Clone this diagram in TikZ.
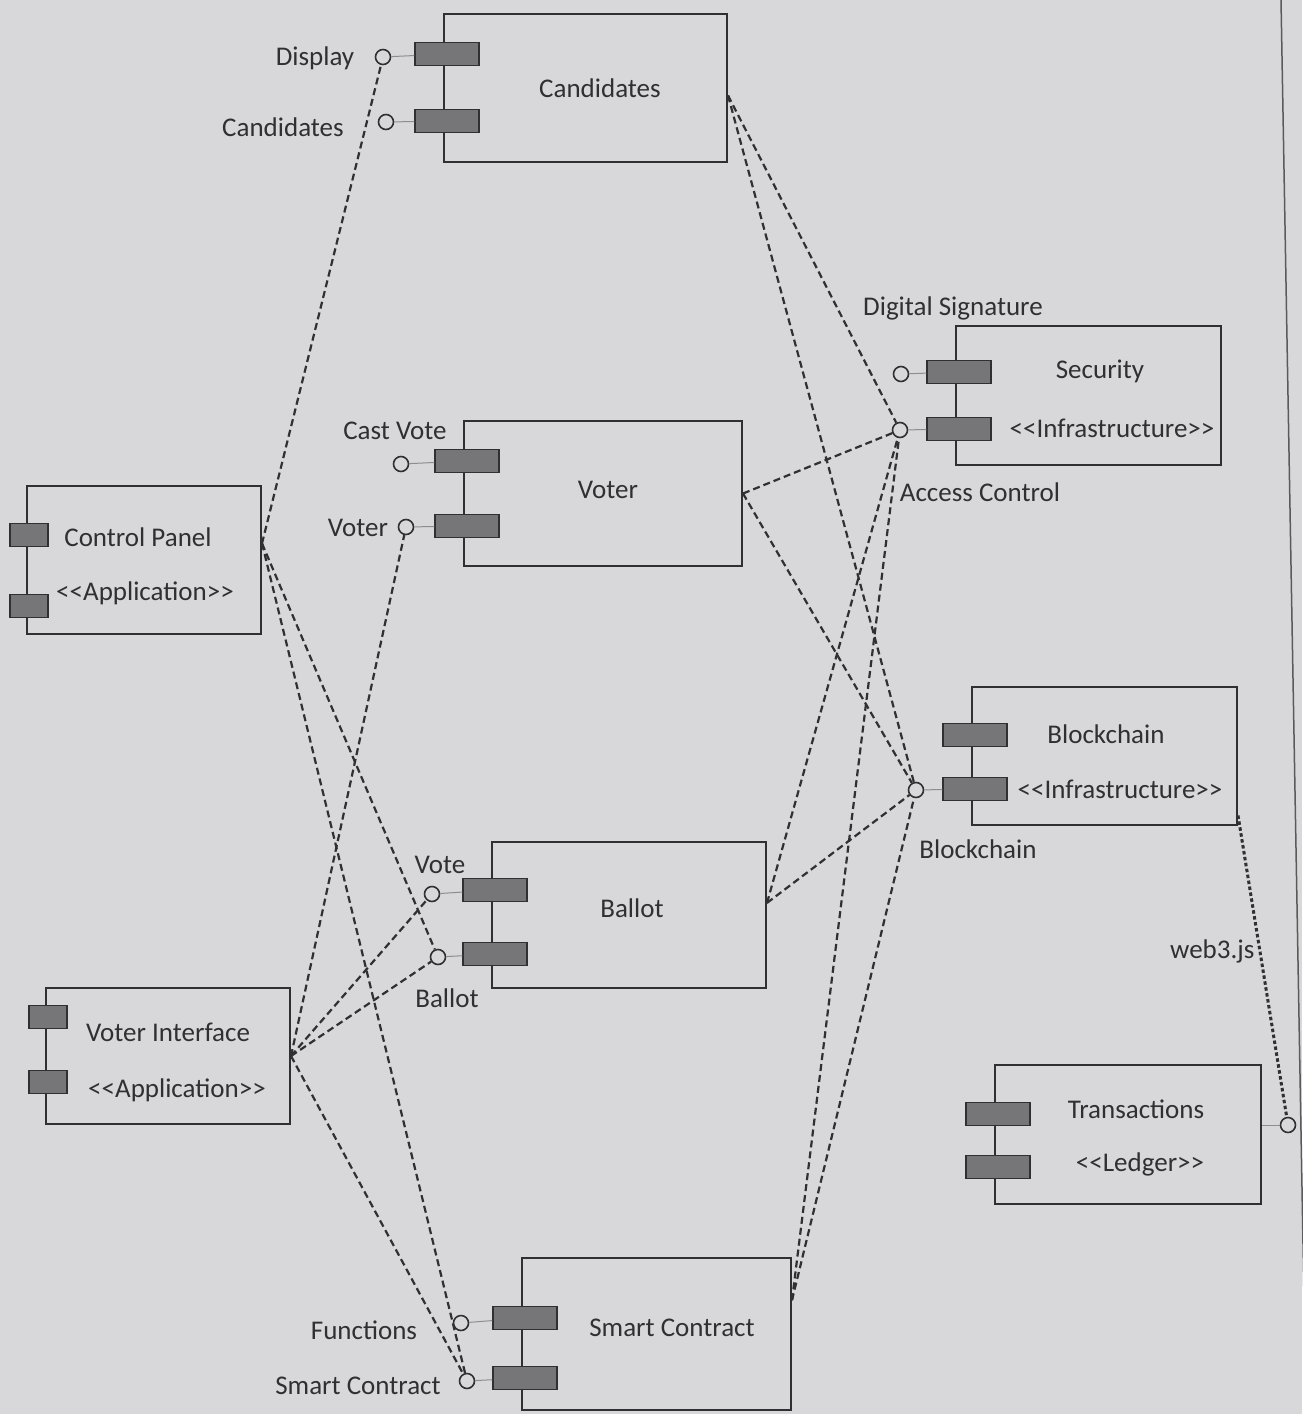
\documentclass[tikz,border=0pt]{standalone}
\usepackage{fontspec}
\setmainfont{Carlito}[Ligatures=TeXOff]
\definecolor{paper}{RGB}{216,216,218}
\definecolor{ink}{RGB}{48,48,50}
\definecolor{portgray}{RGB}{118,118,120}
\begin{document}
\begin{tikzpicture}[x=1pt,y=-1pt,
    comp/.style={draw=ink,line width=2pt,inner sep=0pt},
    port/.style={draw=ink,fill=portgray,line width=1.5pt,minimum width=64pt,minimum height=23pt,inner sep=0pt},
    smallport/.style={port,minimum width=38pt},
    lolli/.style={circle,draw=ink,line width=1.6pt,minimum size=15pt,inner sep=0pt},
    stub/.style={draw=ink!55,line width=1pt},
    dep/.style={draw=ink,line width=2.2pt,dash pattern=on 7pt off 4pt},
    dots/.style={draw=ink,line width=3pt,dash pattern=on 3.5pt off 2.5pt},
    lbl/.style={text=ink,font=\fontsize{27}{32}\selectfont,inner sep=0pt}]
  \fill[paper] (0,0) rectangle (1302,1414);
  \useasboundingbox (0,0) rectangle (1302,1414);
  \draw[ink!80,line width=1.5pt] (1281,0) -- (1306,1414);

  \node[comp,minimum width=283pt,minimum height=148pt] (cand) at (585.5,88) {};
  \node[comp,minimum width=278pt,minimum height=145pt] (voter) at (603,493.5) {};
  \node[comp,minimum width=234pt,minimum height=148pt] (cp) at (144,560) {};
  \node[comp,minimum width=265pt,minimum height=139pt] (sec) at (1088.5,395.5) {};
  \node[comp,minimum width=265pt,minimum height=138pt] (bc) at (1104.5,756) {};
  \node[comp,minimum width=274pt,minimum height=146pt] (ball) at (629,915) {};
  \node[comp,minimum width=244pt,minimum height=136pt] (vi) at (168,1056) {};
  \node[comp,minimum width=266pt,minimum height=139pt] (tx) at (1128,1134.5) {};
  \node[comp,minimum width=269pt,minimum height=152pt] (sc) at (656.5,1334) {};

  \node[port] (cand-p1) at (447,54) {};
  \node[port] (cand-p2) at (447,121) {};
  \node[port] (voter-p1) at (467,461) {};
  \node[port] (voter-p2) at (467,526) {};
  \node[smallport] (cp-p1) at (29,535) {};
  \node[smallport] (cp-p2) at (29,606) {};
  \node[port] (sec-p1) at (959,372) {};
  \node[port] (sec-p2) at (959,429) {};
  \node[port] (bc-p1) at (975,735) {};
  \node[port] (bc-p2) at (975,789) {};
  \node[port] (ball-p1) at (495,890) {};
  \node[port] (ball-p2) at (495,954) {};
  \node[smallport] (vi-p1) at (48,1017) {};
  \node[smallport] (vi-p2) at (48,1082) {};
  \node[port] (tx-p1) at (998,1114) {};
  \node[port] (tx-p2) at (998,1167) {};
  \node[port] (sc-p1) at (525,1318) {};
  \node[port] (sc-p2) at (525,1378) {};

  \node[lolli] (cand-l1) at (383,57) {};
  \node[lolli] (cand-l2) at (386,122) {};
  \node[lolli] (voter-l1) at (401,464) {};
  \node[lolli] (voter-l2) at (406,527) {};
  \node[lolli] (sec-l1) at (901,374) {};
  \node[lolli] (sec-l2) at (900,430) {};
  \node[lolli] (bc-l2) at (916,790) {};
  \node[lolli] (ball-l1) at (432,894) {};
  \node[lolli] (ball-l2) at (438,957) {};
  \node[lolli] (sc-l1) at (461,1323) {};
  \node[lolli] (sc-l2) at (467,1381) {};
  \node[lolli] (tx-l) at (1288,1125) {};

  \foreach \c/\i in {cand/1,cand/2,voter/1,voter/2,sec/1,sec/2,bc/2,ball/1,ball/2,sc/1,sc/2}
    \draw[stub] (\c-l\i) -- (\c-p\i);
  \draw[stub] (tx-l) -- (tx-l -| tx.east);

  \node[lbl] (cand-name) at (600,88) {Candidates};
  \node[lbl] (voter-name) at (608,490) {Voter};
  \node[lbl] (cp-name) at (138,537) {Control Panel};
  \node[lbl] (cp-type) at (145,593) {<<Application>>};
  \node[lbl] (sec-name) at (1100,371) {Security};
  \node[lbl] (sec-type) at (1112,428) {<<Infrastructure>>};
  \node[lbl] (bc-name) at (1106,734) {Blockchain};
  \node[lbl] (bc-type) at (1120,789) {<<Infrastructure>>};
  \node[lbl] (ball-name) at (632,908) {Ballot};
  \node[lbl] (vi-name) at (168,1032) {Voter Interface};
  \node[lbl] (vi-type) at (177,1090) {<<Application>>};
  \node[lbl] (tx-name) at (1136,1109) {Transactions};
  \node[lbl] (tx-type) at (1140,1164) {<<Ledger>>};
  \node[lbl] (sc-name) at (672,1328) {Smart Contract};

  \node[lbl] (cand-t1) at (315,58) {Display};
  \node[lbl] (cand-t2) at (283,127) {Candidates};
  \node[lbl] (voter-t1) at (395,431) {Cast Vote};
  \node[lbl] (voter-t2) at (358,528) {Voter};
  \node[lbl] (sec-t1) at (953,308) {Digital Signature};
  \node[lbl] (sec-t2) at (980,492) {Access Control};
  \node[lbl] (bc-t) at (978,849) {Blockchain};
  \node[lbl] (ball-t1) at (440,865) {Vote};
  \node[lbl] (ball-t2) at (447,998) {Ballot};
  \node[lbl] (sc-t1) at (364,1330) {Functions};
  \node[lbl] (sc-t2) at (358,1386) {Smart Contract};

  \draw[dep] (cp.8) -- (cand-l1);
  \draw[dep] (cp.8) -- (ball-l2);
  \draw[dep] (cp.8) -- (sc-l2);
  \draw[dep] (vi.east) -- (voter-l2);
  \draw[dep] (vi.east) -- (ball-l1);
  \draw[dep] (vi.east) -- (ball-l2);
  \draw[dep] (vi.east) -- (sc-l2);
  \foreach \c/\a in {cand/-3,voter/0,ball/5,sc/14}
    {\draw[dep] (\c.\a) -- (sec-l2);
     \draw[dep] (\c.\a) -- (bc-l2);}
  \draw[dots] (bc.-24) -- node[lbl,pos=0.45,left=4pt] (web) {web3.js} (tx-l);
\end{tikzpicture}
\end{document}
